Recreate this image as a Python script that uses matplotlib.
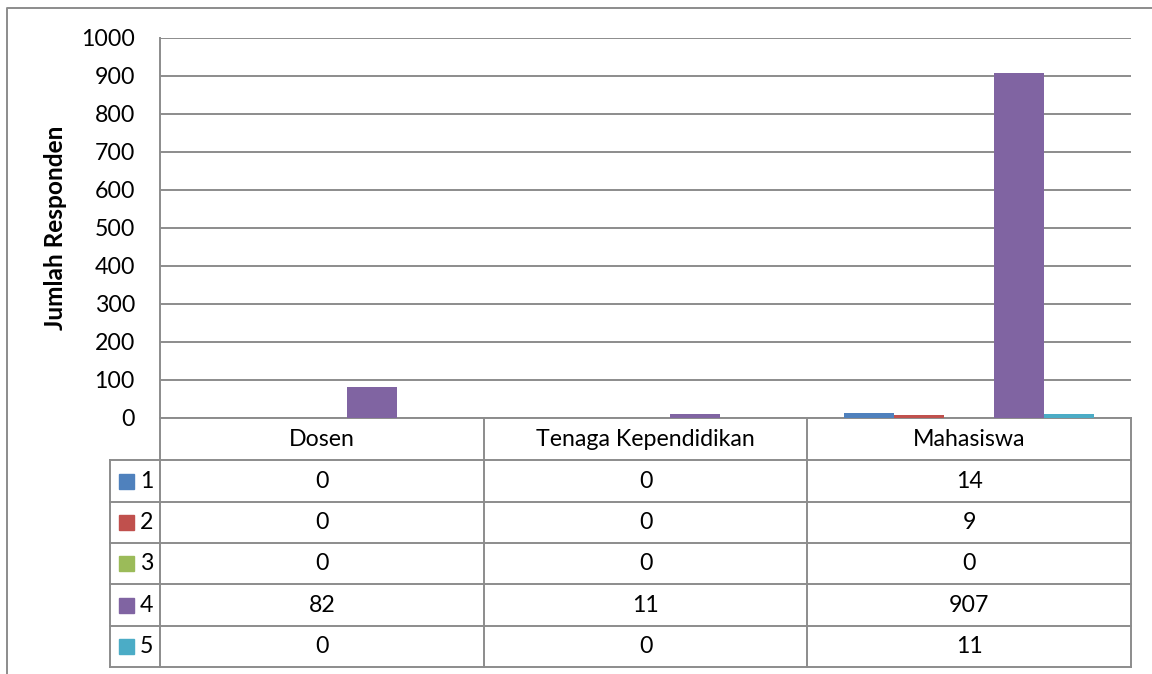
import matplotlib
matplotlib.use("Agg")
import matplotlib.pyplot as plt

categories = ["Dosen", "Tenaga Kependidikan", "Mahasiswa"]
series_names = ["1", "2", "3", "4", "5"]
values = {
    "1": [0, 0, 14],
    "2": [0, 0, 9],
    "3": [0, 0, 0],
    "4": [82, 11, 907],
    "5": [0, 0, 11],
}
colors = ["#4F81BD", "#C0504D", "#9BBB59", "#8064A2", "#4BACC6"]
y_ticks = [0, 100, 200, 300, 400, 500, 600, 700, 800, 900, 1000]

W, H = 1152, 674
plt.rcParams["font.family"] = ["Lato", "DejaVu Sans"]
fig = plt.figure(figsize=(W / 100, H / 100), dpi=100)
grid_col = "#8C8C8C"
lw = 1.4
fs = 16.7

# overlay in pixel coordinates for the frame and the data table
ov = fig.add_axes([0, 0, 1, 1])
ov.set_xlim(0, W)
ov.set_ylim(H, 0)
ov.axis("off")

px_l, px_r, px_t, px_b = 160, 1131, 38, 418
ax = fig.add_axes([px_l / W, 1 - px_b / H, (px_r - px_l) / W, (px_b - px_t) / H])
ax.set_facecolor("none")

bw = 50 / ((px_r - px_l) / 3)
for i, name in enumerate(series_names):
    xs = [k + (i - 2) * bw for k in range(len(categories))]
    ax.bar(xs, values[name], width=bw, color=colors[i], zorder=3)

ax.set_xlim(-0.5, len(categories) - 0.5)
ax.set_ylim(0, 1000)
ax.set_yticks(y_ticks)
ax.set_yticklabels([str(t) for t in y_ticks], fontsize=fs)
ax.set_xticks([])
ax.tick_params(axis="y", length=0, pad=18)
ax.grid(axis="y", color=grid_col, linewidth=lw, zorder=0)
for s in ["top", "right", "bottom"]:
    ax.spines[s].set_visible(False)
ax.spines["left"].set_color(grid_col)
ax.spines["left"].set_linewidth(lw)
ax.set_ylabel("Jumlah Responden", fontsize=17.6, fontweight="bold")
ax.yaxis.set_label_coords(-0.096, 0.5)

# outer chart frame
ov.plot([7, 7, W], [H, 8, 8], color=grid_col, lw=lw)

# data table
col_w = (px_r - px_l) / len(categories)
col_edges = [px_l + k * col_w for k in range(len(categories) + 1)]
row_edges = [418, 460, 502, 543, 584, 626, 667]
leg_l = 110
for k, x in enumerate(col_edges):
    ov.plot([x, x], [px_b, row_edges[-1]], color=grid_col, lw=lw)
ov.plot([leg_l, leg_l], [row_edges[1], row_edges[-1]], color=grid_col, lw=lw)
ov.plot([px_l, px_r], [px_b, px_b], color=grid_col, lw=lw)
for y in row_edges[1:]:
    ov.plot([leg_l, px_r], [y, y], color=grid_col, lw=lw)

for k, cat in enumerate(categories):
    cx = (col_edges[k] + col_edges[k + 1]) / 2
    ov.text(cx, (row_edges[0] + row_edges[1]) / 2, cat, ha="center", va="center", fontsize=fs)

for i, name in enumerate(series_names):
    cy = (row_edges[i + 1] + row_edges[i + 2]) / 2
    ov.add_patch(plt.Rectangle((119, cy - 7.5), 15, 15, color=colors[i]))
    ov.text(140, cy, name, ha="left", va="center", fontsize=fs)
    for k in range(len(categories)):
        cx = (col_edges[k] + col_edges[k + 1]) / 2
        ov.text(cx, cy, str(values[name][k]), ha="center", va="center", fontsize=fs)

fig.savefig("out.png", dpi=100)
